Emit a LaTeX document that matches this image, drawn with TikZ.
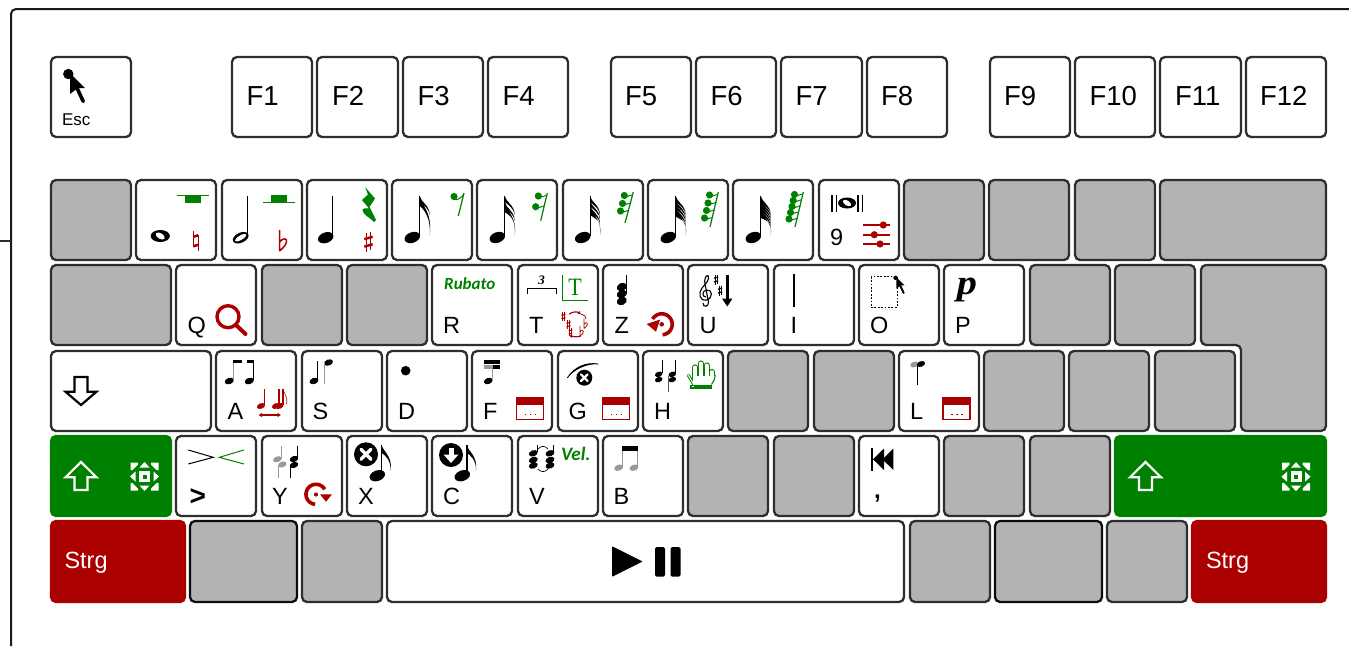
\documentclass[tikz,border=0pt]{standalone}
\usepackage{fontspec}
\usetikzlibrary{arrows.meta}
\setmainfont{Liberation Sans}
\newfontfamily\lsrf{Liberation Serif}
\newfontfamily\carl{Carlito}
\definecolor{kgreen}{HTML}{008000}
\definecolor{kred}{HTML}{AA0000}
\definecolor{kgray}{HTML}{B3B3B3}
\definecolor{kline}{HTML}{2E2E2E}
\definecolor{mgray}{HTML}{999999}
\tikzset{
  keybase/.style={rectangle,rounded corners=5pt,line width=2.3pt,inner sep=0pt,outer sep=0pt},
  whitekey/.style={keybase,draw=kline,fill=white},
  graykey/.style={keybase,draw=kline,fill=kgray},
  darkkey/.style={keybase,draw=black!95,fill=kgray},
  greenkey/.style={keybase,draw=kgreen,fill=kgreen},
  redkey/.style={keybase,draw=kred,fill=kred},
  keytext/.style={inner sep=0pt,outer sep=0pt,anchor=base west,font=\fontsize{23.5}{24}\selectfont},
  fntext/.style={keytext,font=\fontsize{27.5}{28}\selectfont},
  stemline/.style={line width=1pt},
  rnd/.style={line cap=round,line join=round}
}
\newcommand\kk[6]{\node[#1,minimum width={(#4-#3)*1pt},minimum height={(#6-#5)*1pt}] (#2) at ({(#3+#4)/2},{(#5+#6)/2}) {};}
% note head
\newcommand\nh[4][black]{\fill[#1,rotate around={20:(#2,#3)}] (#2,#3) ellipse [x radius=#4,y radius=0.66*#4];}
% accidentals: colour, x, y, scale (design height 20)
\newcommand\shp[4][black]{\begin{scope}[shift={(#2,#3)},scale=#4]
  \draw[#1,line width={#4*1.2pt}] (-1.8,-8.5) -- (-1.8,10) (1.8,-10) -- (1.8,8.5);
  \draw[#1,line width={#4*2.5pt}] (-4.2,-2.5) -- (4.2,-5) (-4.2,5) -- (4.2,2.5);
\end{scope}}
\newcommand\flt[4][black]{\begin{scope}[shift={(#2,#3)},scale=#4]
  \draw[#1,line width={#4*1.5pt}] (-3,-10.5) -- (-3,10.5) (-3,1.5) .. controls (1,-3.5) and (5,-2) .. (4,1.5) .. controls (3.5,4.5) and (0,8) .. (-3,10.5);
\end{scope}}
\newcommand\ntr[4][black]{\begin{scope}[shift={(#2,#3)},scale=#4]
  \draw[#1,line width={#4*1.3pt}] (-2.5,-10) -- (-2.5,6) (2.5,-6) -- (2.5,10);
  \draw[#1,line width={#4*2.6pt}] (-2.5,-4.5) -- (2.5,-6) (-2.5,5) -- (2.5,3.5);
\end{scope}}
% flags: x, ytop, n, spacing
\newcommand\flg[5][black]{%
  \foreach \i in {1,...,#4}{%
    \pgfmathsetmacro\yy{#3+(\i-1)*#5}%
    \fill[#1] (#2,\yy) .. controls (#2+1,\yy+6) and (#2+10,\yy+9) .. (#2+10,\yy+19) .. controls (#2+9.5,\yy+13) and (#2+4,\yy+9) .. (#2,\yy+6) -- cycle;
  }%
  \pgfmathsetmacro\yz{#3+(#4-1)*#5}%
  \pgfmathsetmacro\ye{#3+39}%
  \fill[#1] (#2,\yz) .. controls (#2+1,\yz+8) and (#2+13,\yz+16) .. (#2+10,\ye) .. controls (#2+11.5,\ye-17) and (#2+4,\yz+13) .. (#2,\yz+10) -- cycle;
}
% full note: head x, stem x
\newcommand\fnote[3]{%
  \nh{#1}{237.5}{8}
  \draw[stemline] (#2,196) -- (#2,236);
}
% rest: slash x1,y1,x2,y2 dots
\newcommand\rslash[4]{\draw[kgreen,line width=1.2pt] (#1,#2) -- (#3,#4);}
\newcommand\rdot[2]{\fill[kgreen] (#1,#2) circle [radius=3.6];\draw[kgreen,line width=1pt] (#1,#2+2) -- (#1+8.5,#2-.8);}
\newcommand\dlg[3]{% node name, x, y
  \draw[kred,line width=1.3pt,fill=white] (#2,#3) rectangle (#2+27,#3+22);
  \fill[kred] (#2-.6,#3-.6) rectangle (#2+27.6,#3+7);
  \foreach \d in {9,14,19}{\fill[kred] (#2+\d-.8,#3+16) rectangle (#2+\d+.8,#3+17.6);}
}
\newcommand\fsic[2]{\begin{scope}[shift={(#1,#2)}]
  \fill[white] (-5.5,-5.5) rectangle (5.5,5.5);
  \fill[kgreen] (-2,-2) rectangle (2,2);
  \fill[white] (0,-14.5) -- (5,-9) -- (-5,-9) -- cycle;
  \fill[white] (0,14.5) -- (5,9) -- (-5,9) -- cycle;
  \fill[white] (-14.5,0) -- (-9,5) -- (-9,-5) -- cycle;
  \fill[white] (14.5,0) -- (9,5) -- (9,-5) -- cycle;
  \foreach \sx/\sy in {1/1,1/-1,-1/1,-1/-1}{
    \fill[white] ({\sx*14},{\sy*14}) -- ({\sx*6.5},{\sy*14}) -- ({\sx*6.5},{\sy*12}) -- ({\sx*12},{\sy*6.5}) -- ({\sx*14},{\sy*6.5}) -- cycle;}
\end{scope}}
\newcommand\xcirc[3]{\fill (#1,#2) circle [radius=#3];
  \draw[white,line width=#3*0.28pt,line cap=round] (#1-.42*#3,#2-.42*#3) -- (#1+.42*#3,#2+.42*#3) (#1+.42*#3,#2-.42*#3) -- (#1-.42*#3,#2+.42*#3);}
\newcommand\finger[3]{\draw[kgreen,line width=6.2pt,line cap=round] (#1,#2+3) -- (#1,#3);\draw[white,line width=3.9pt,line cap=round] (#1,#2+3) -- (#1,#3);}
\begin{document}
\begin{tikzpicture}[x=1pt,y=-1pt]
\useasboundingbox (0,0) rectangle (1349,646);
\fill[white] (0,0) rectangle (1349,646);
% outer frame
\coordinate (frameA) at (1349,9);
\coordinate (frameB) at (11,9);
\coordinate (frameC) at (11,646);
\coordinate (tickA) at (0,241);
\coordinate (tickB) at (11,241);
\draw[black!90,line width=2pt,rounded corners=5pt] (frameA) -- (frameB) -- (frameC);
\draw[kline,line width=2pt] (tickA) -- (tickB);
% function row
\kk{whitekey}{esc}{51}{131}{57}{137}
\foreach \n/\a/\b in {f1/232/312,f2/317/398,f3/403/483,f4/488/568,f5/611/691,f6/696/776,f7/781/862,f8/867/947,f9/990/1070,f10/1075/1155,f11/1160/1241,f12/1246/1326}{\kk{whitekey}{\n}{\a}{\b}{57}{137}}
% row 1
\foreach \n/\a/\b in {a1/51/131,a10/904/984,a11/989/1069,a12/1075/1155,a13/1160/1326}{\kk{graykey}{\n}{\a}{\b}{180}{260}}
\foreach \n/\a/\b in {a2/136/216,a3/222/302,a4/307/387,a5/392/472,a6/477/557,a7/563/643,a8/648/728,a9/733/813,a99/819/899}{\kk{whitekey}{\n}{\a}{\b}{180}{260}}
% row 2
\foreach \n/\a/\b in {b1/51/171,b3/262/342,b4/347/427,b13/1030/1110,b14/1115/1195}{\kk{graykey}{\n}{\a}{\b}{265}{345}}
\foreach \n/\a/\b in {kq/176/256,kr/432/512,kt/518/598,kz/603/683,ku/688/768,ki/774/854,ko/859/939,kp/944/1024}{\kk{whitekey}{\n}{\a}{\b}{265}{345}}
% enter
\draw[keybase,draw=kline,fill=kgray] (1201,265) -- (1326,265) -- (1326,431) -- (1241,431) -- (1241,345) -- (1201,345) -- cycle;
% row 3
\foreach \n/\a/\b in {c8/728/808,c9/814/894,c11/984/1064,c12/1069/1149,c13/1155/1235}{\kk{graykey}{\n}{\a}{\b}{351}{431}}
\foreach \n/\a/\b in {shd/51/211,ka/216/296,ks/302/382,kd/387/467,kf/472/552,kg/558/638,kh/643/723,kl/899/979}{\kk{whitekey}{\n}{\a}{\b}{351}{431}}
% row 4
\kk{greenkey}{shl}{51}{171}{436}{516}
\kk{greenkey}{shr}{1115}{1326}{436}{516}
\foreach \n/\a/\b in {d8/688/768,d9/774/854,d11/944/1024,d12/1030/1110}{\kk{graykey}{\n}{\a}{\b}{436}{516}}
\foreach \n/\a/\b in {kgt/176/256,ky/262/342,kx/347/427,kc/432/512,kv/518/598,kb/603/683,kcm/859/939}{\kk{whitekey}{\n}{\a}{\b}{436}{516}}
% row 5
\kk{redkey}{ctl}{51}{185}{521}{602}
\kk{redkey}{ctr}{1192}{1326}{521}{602}
\kk{darkkey}{e2}{190}{297}{521}{602}
\kk{graykey}{e3}{302}{382}{521}{602}
\kk{whitekey}{sp}{387}{904}{521}{602}
\kk{graykey}{e5}{910}{990}{521}{602}
\kk{darkkey}{e6}{995}{1102}{521}{602}
\kk{graykey}{e7}{1107}{1187}{521}{602}
% F labels
\foreach \n/\x in {F1/246.5,F2/332,F3/417.5,F4/502.5,F5/625,F6/710.5,F7/795.5,F8/881,F9/1004,F10/1089.5,F11/1175,F12/1260}{\node[fntext] (lab\n) at (\x,105) {\n};}
\node[keytext,font=\fontsize{17}{18}\selectfont] (labesc) at (62,125) {Esc};
% Esc cursor
\fill (68.3,74) circle [radius=5.2];
\fill[black] (70,73) -- (85,88) -- (78,88) -- (70,94) -- cycle;
\draw[line width=3.6pt,rnd] (77,88) -- (83.3,101.5);
% Row 1: whole
\fill (160.3,236) ellipse [x radius=9.6,y radius=6];
\fill[white,rotate around={-32:(160.3,236)}] (160.3,236) ellipse [x radius=5,y radius=2.8];
\draw[kgreen,line width=.9pt] (177.3,195) -- (209.3,195);
\fill[kgreen] (185,195) rectangle (201,203);
\ntr[kred]{195.7}{241.3}{1}
% half
\fill[rotate around={25:(240.7,237.7)}] (240.7,237.7) ellipse [x radius=8.4,y radius=5];
\fill[white,rotate around={30:(240.7,237.7)}] (240.7,237.7) ellipse [x radius=6.6,y radius=2.2];
\draw[stemline] (247.3,196) -- (247.3,236);
\draw[kgreen,line width=.9pt] (262.7,202.5) -- (295,202.5);
\fill[kgreen] (271,195) rectangle (286.7,202.5);
\flt[kred]{282.5}{240.5}{1}
% quarter
\nh{325.7}{237.7}{8}
\draw[stemline] (332.7,196) -- (332.7,236);
\fill[kgreen] (365,187) -- (375,198.5) -- (369.5,207) -- (376,220) -- (374,222) .. controls (368,216) and (363,215) .. (362.5,210) .. controls (362.5,208) and (367,208) .. (369,208.5) -- (362,200) -- (368,194.5) -- cycle;
\shp[kred]{368.5}{241.7}{1}
% eighth
\fnote{412.3}{419.7}{1}
\flg{419.7}{196}{1}{0}
\fill[kgreen] (454,196.5) circle [radius=3.6];
\rslash{464}{193}{458.3}{216}
\draw[kgreen,line width=1pt] (454,199) .. controls (457,201) and (461,198) .. (463.5,194.5);
% 16th
\fnote{497.3}{504.7}{2}
\flg{504.7}{196}{2}{6}
\rdot{538.3}{196}\rdot{535.7}{206.7}\rslash{547.3}{193}{540.7}{220.7}
% 32nd
\fnote{582.7}{590}{3}
\flg{590}{196}{3}{4.6}
\rdot{624.3}{195.5}\rdot{622.5}{203.5}\rdot{620.5}{211}\rslash{633.3}{192}{625}{223}
% 64th
\fnote{668.3}{675.7}{4}
\flg{675.7}{196}{4}{3.6}
\rdot{709.5}{195}\rdot{708}{203}\rdot{706.5}{210.5}\rdot{704.5}{218}\rslash{718.3}{192}{710}{227}
% 128th
\fnote{753.3}{760.7}{5}
\flg{760.7}{196}{5}{3}
\rdot{794.5}{194.5}\rdot{793.2}{200.5}\rdot{792}{206.5}\rdot{790.5}{212.5}\rdot{789}{219}\rslash{803.3}{192}{795}{227}
% 9 key
\foreach \x in {832,836.5,858,862.5}{\draw[line width=1.4pt] (\x,195) -- (\x,211.5);}
\fill (847,203) ellipse [x radius=9,y radius=5.5];
\fill[white,rotate around={-32:(847,203)}] (847,203) ellipse [x radius=4.6,y radius=2.5];
\node[keytext] (lab9) at (830,245) {9};
\foreach \yy/\xx in {225/883.3,234.7/874.3,244/880}{\draw[kred,line width=1.6pt] (863,\yy) -- (889.5,\yy);\fill[kred] (\xx,\yy) circle [radius=3.6];}
% Row 2 labels
\foreach \n/\x/\y in {Q/187.5/333,R/443/333,T/529/333,Z/614.5/333,U/699.5/333,O/870/333,P/955/333,A/227.5/419,S/312.5/419,D/398/419,F/483/419,G/568.5/419,H/654/419,L/910/419,Y/272/504,X/358/504,C/443/504,V/529/504,B/613.5/504}{\node[keytext] (lab\n) at (\x,\y) {\n};}
\node[keytext,anchor=base] (labI) at (794,333) {I};
% magnifier
\draw[kred,line width=3.4pt] (228,316.7) circle [radius=11];
\draw[kred,line width=4pt,line cap=round] (236,325) -- (245.5,334);
% Rubato
\node[inner sep=0pt,anchor=base west,text=kgreen,font=\carl\bfseries\itshape\fontsize{17}{18}\selectfont] (rub) at (444,289.5) {Rubato};
% T key
\coordinate (bra) at (527.3,293.5);\coordinate (brb) at (556,293.5);
\draw[line width=1pt] (bra) -- (527.3,288.5) -- (556,288.5) -- (brb);
\node[inner sep=0pt,font=\lsrf\bfseries\itshape\fontsize{13}{13}\selectfont] (trip) at (541.7,280.5) {3};
\draw[kgreen,line width=1.4pt] (562.3,275) -- (562.3,300.5) -- (588.3,300.5);
\node[inner sep=0pt,text=kgreen,xscale=.88,font=\lsrf\fontsize{25}{25}\selectfont] (tt) at (575,287) {T};
\shp[kred]{563.5}{316.5}{.48}\shp[kred]{568.5}{324.5}{.48}\shp[kred]{570.5}{332}{.42}
\flt[kred]{585.5}{323.5}{.48}\flt[kred]{581.5}{331}{.48}
\draw[kred,line width=1.1pt,-{Latex[length=3pt,width=3.5pt]}] (569,314) .. controls (573,311.5) and (577,311.5) .. (581,314);
\draw[kred,line width=1.1pt,-{Latex[length=3pt,width=3.5pt]}] (581,336) .. controls (577,337) and (574,337) .. (569,335.5);
\draw[kred,line width=.8pt] (581,314) -- (585,316) -- (586,319);
% Z key
\draw[stemline] (626,275) -- (626,294);
\foreach \yy in {287,294,301}{\fill[rotate around={25:(621.8,\yy)}] (621.8,\yy) ellipse [x radius=5.2,y radius=4];}
\draw[kred,line width=3.6pt] plot[domain=-85:150,samples=30] ({661.7+10.5*cos(\x)},{324.3-10.5*sin(\x)});
\fill[kred] (661.7,324.3) circle [radius=2.3];
\fill[kred] (646.7,324) -- (660,319.5) -- (656,331.7) -- cycle;
% U key
\draw[line width=1.1pt] (706,297) .. controls (702,297) and (701.5,291) .. (706.5,290) .. controls (712.5,289) and (713.5,298) .. (706.5,300) .. controls (699.5,301.5) and (698,293) .. (702,288) .. controls (706,283) and (710,280) .. (708,275.5) .. controls (705.5,275) and (704,280) .. (705,284) -- (708.5,302) .. controls (709,307.5) and (702.5,307.5) .. (703,303);
\shp{716}{279.5}{.5}
\shp{720}{290.5}{.5}
\draw[line width=2.8pt] (727.3,275) -- (727.3,300);
\fill (722,298.5) -- (732.5,298.5) -- (727.3,306.5) -- cycle;
% I key
\draw[line width=2pt] (794,274) -- (794,306.7);
% O key
\draw[line width=.9pt,dash pattern=on 1.8pt off 1.6pt] (871,276.7) rectangle (897,307.3);
\begin{scope}[shift={(895.5,277.5)},scale=.55]
\fill (0,0.5) circle [radius=4];
\fill (1.5,-.5) -- (16.5,14.5) -- (9.5,14.5) -- (1.5,20.5) -- cycle;
\draw[line width=2pt,rnd] (8.5,14.5) -- (14.8,28);
\end{scope}
% P key
\node[inner sep=0pt,anchor=base,xscale=1.15,font=\lsrf\bfseries\itshape\fontsize{35}{35}\selectfont] (dyn) at (967,294.5) {p};
% Row 3: shift
\draw[black,line width=2.2pt,fill=white,miter limit=4] (74.5,377) -- (87.5,377) -- (87.5,391.7) -- (96.5,391.7) -- (81,405) -- (65.5,391.7) -- (74.5,391.7) -- cycle;
% A key
\nh{229.3}{381}{4.8}\nh{249.3}{381}{4.8}
\draw[mgray,stemline] (233,361) -- (233,380);
\draw[stemline] (253.5,361) -- (253.5,380);
\fill (232.5,360) rectangle (241.7,363);
\fill (246.7,360) rectangle (254,363);
\nh[kred]{261}{406}{4.2}
\draw[kred,line width=1.4pt] (264.5,389) -- (264.5,405);
\nh[kred]{276}{406}{4.2}\nh[kred]{279.5}{406}{4.2}
\draw[kred,line width=1.4pt] (279,389) -- (279,405);
\draw[kred,line width=1.4pt] (283,389) -- (283,405);
\draw[kred,line width=.6pt] (283,389) .. controls (284,394) and (288,396) .. (286.5,404);
\draw[kred,line width=1.1pt,{Latex[length=3.5pt,width=5pt]}-{Latex[length=3.5pt,width=5pt]}] (258.5,415) -- (281,415);
% S key
\nh{314}{381}{4.6}\draw[stemline] (317.8,361) -- (317.8,380);
\nh{328.5}{362.5}{4.6}\draw[mgray,stemline] (324.7,363) -- (324.7,384);
% D key
\fill (405.7,370.7) circle [radius=4.8];
% F key
\nh{488.3}{381}{4.6}
\draw[mgray,stemline] (492.5,365) -- (492.5,380);
\fill (484,360) rectangle (499.5,364);
\fill[mgray] (484,365) rectangle (492.7,368.7);
\fill (492.7,365) rectangle (500,368.7);
\dlg{}{516.5}{397.5}
% G key
\fill (567.3,378) .. controls (574,367) and (586,362) .. (598.3,364) .. controls (586,364) and (575,369) .. (567.3,378) -- cycle;
\draw[line width=.8pt] (567.3,378) .. controls (574,367) and (586,362) .. (598.3,364);
\xcirc{584.3}{377.7}{8}
\dlg{}{602.5}{397.5}
% H key
\foreach \xx in {658.7,672.3}{\nh{\xx}{374.3}{3.9}\nh{\xx}{379.6}{3.9}}
\draw[stemline] (662.6,360) -- (662.6,373);
\draw[stemline] (675.7,360) -- (675.7,373);
\draw[mgray!60!black,stemline] (668.5,376) -- (668.5,391.7);
% hand
\draw[kgreen,line width=3pt,line cap=round] (688.5,375.5) -- (693.5,384);
\draw[white,line width=1pt,line cap=round] (688.5,375.5) -- (693.5,384);
\finger{695.2}{364.5}{378}
\finger{700.9}{360.5}{378}
\finger{706.6}{362.5}{378}
\finger{712.2}{369}{378}
\fill[white] (692.5,376) rectangle (715,384.5);
\draw[kgreen,line width=1.1pt] (715.1,375) .. controls (715.1,379) and (713.5,381.5) .. (711.5,384.5);
\fill[kgreen] (690,384.5) rectangle (711.5,388.5);
\fill[white] (691.5,386) rectangle (693.5,387.3);
% L key
\draw[stemline] (917.7,363) -- (917.7,385);
\nh[mgray]{914.3}{364.5}{4.2}\nh{921}{364}{4.2}
\dlg{}{943}{397.5}
% Row 4: shift
\draw[white,line width=2.2pt,miter limit=4] (74.5,490) -- (87.5,490) -- (87.5,477.3) -- (96.5,477.3) -- (81,462) -- (65.5,477.3) -- (74.5,477.3) -- cycle;
\fsic{144.5}{476.5}
\draw[white,line width=2.2pt,miter limit=4] (1139,490) -- (1152,490) -- (1152,477.3) -- (1161,477.3) -- (1145.5,462) -- (1130,477.3) -- (1139,477.3) -- cycle;
\fsic{1296}{476.7}
% > key
\draw[line width=1pt] (188.3,450) -- (213.3,457.3) -- (188.3,464);
\draw[kgreen,line width=1pt] (244,450) -- (219.3,457.3) -- (244,464);
\node[keytext,font=\bfseries\fontsize{28}{28}\selectfont] (labgt) at (189.5,505.5) {>};
% Y key
\draw[mgray,stemline] (281,446) -- (281,459);
\nh[mgray]{277.3}{459.3}{4.4}\nh[mgray]{282.3}{464.5}{4.4}
\draw[mgray,stemline] (278.3,465) -- (278.3,478);
\draw[stemline] (297.3,446) -- (297.3,459);
\nh{294}{459}{4.4}\nh{294}{465}{4.4}
\draw[stemline] (290.2,465) -- (290.2,478);
\draw[kred,line width=3.6pt] plot[domain=265:30,samples=30] ({316+10*cos(\x)},{494.3-10*sin(\x)});
\fill[kred] (316,494.5) circle [radius=2.1];
\fill[kred] (320,494.3) -- (332,494.3) -- (326,501.7) -- cycle;
% X key
\xcirc{366}{454.3}{12}
\nh{377.3}{475.7}{8}
\draw[line width=1.1pt] (381.7,445) -- (381.7,473);
\fill (381.7,445) .. controls (382.5,451) and (393,456) .. (390.5,470.5) .. controls (391,460) and (385,455) .. (381.7,453) -- cycle;
% C key
\fill (451,455) circle [radius=12];
\fill[white] (448.5,447.5) rectangle (453.5,455);
\fill[white] (443.5,454.5) -- (458.5,454.5) -- (451,463) -- cycle;
\nh{462.3}{475.7}{8}
\draw[line width=1.1pt] (467,445) -- (467,473);
\fill (467,445) .. controls (467.8,451) and (478,456) .. (476,470.5) .. controls (476.5,460) and (470,455) .. (467,453) -- cycle;
% V key
\foreach \xx in {533.3,550}{\foreach \yy in {453.3,460,465.5}{\nh{\xx}{\yy}{4.6}}}
\draw[stemline] (537,445) -- (537,452);
\draw[stemline] (553.5,445) -- (553.5,452);
\draw[line width=.7pt] (538,449) .. controls (541,445.5) and (545,445.5) .. (548,449);
\draw[line width=.7pt] (538,469) .. controls (541,472.5) and (545,472.5) .. (548,469);
\node[inner sep=0pt,anchor=base west,text=kgreen,font=\carl\bfseries\itshape\fontsize{19}{19}\selectfont] (vel) at (561,460) {Vel.};
% B key
\nh[mgray]{618.7}{467.7}{4.6}\nh[mgray]{634}{467.7}{4.6}
\draw[mgray,stemline] (622.8,446) -- (622.8,466);
\draw[mgray,stemline] (637.8,446) -- (637.8,466);
\fill (622.3,445.7) rectangle (638.3,451);
% comma key
\fill (871,448) rectangle (873.3,470.7);
\fill (873,459.3) -- (884,448.5) -- (884,470) -- cycle;
\fill (882.5,459.3) -- (893.3,448.5) -- (893.3,470) -- cycle;
\node[keytext,font=\bfseries\fontsize{24}{24}\selectfont] (labcm) at (874,498) {,};
% Strg
\node[keytext,text=white] (strgl) at (64.5,568) {Strg};
\node[keytext,text=white] (strgr) at (1206,568) {Strg};
% play / pause
\fill[line join=round,draw,line width=1pt] (612.5,547) -- (641.5,561.5) -- (612.5,576) -- cycle;
\fill[rounded corners=1.5pt] (655,547) rectangle (665,576.5);
\fill[rounded corners=1.5pt] (670.5,547) rectangle (680.5,576.5);
\end{tikzpicture}
\end{document}
